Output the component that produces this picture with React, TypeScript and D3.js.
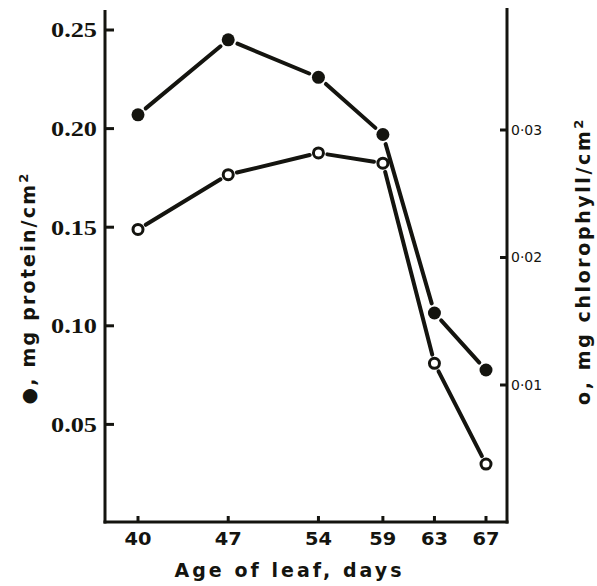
import React from "react";
import * as d3 from "d3";

const ages = [40, 47, 54, 59, 63, 67];
const protein = [0.207, 0.245, 0.226, 0.197, 0.1065, 0.0776];
const chlorophyll = [0.0222, 0.0265, 0.0282, 0.0274, 0.0117, 0.0038];
const leftTicks = [0.05, 0.1, 0.15, 0.2, 0.25];
const leftTickLabels = ["0.05", "0.10", "0.15", "0.20", "0.25"];
const rightTicks = [0.01, 0.02, 0.03];
const rightTickLabels = ["0·01", "0·02", "0·03"];
const xTickLabels = ["40", "47", "54", "59", "63", "67"];

const INK = "#14140f";
const W = 597;
const H = 586;
const axL = 105;
const axR = 507;
const axB = 522;

const x = d3.scaleLinear().domain([40, 67]).range([138, 486]);
const yL = d3.scaleLinear().domain([0, 0.25]).range([523, 30]);
const yR = d3.scaleLinear().domain([0, 0.03]).range([512.5, 130]);

function segments(pts: [number, number][], gap: number) {
  const out: { x1: number; y1: number; x2: number; y2: number }[] = [];
  for (let i = 0; i < pts.length - 1; i++) {
    const [ax, ay] = pts[i];
    const [bx, by] = pts[i + 1];
    const dx = bx - ax;
    const dy = by - ay;
    const len = Math.hypot(dx, dy);
    const ux = dx / len;
    const uy = dy / len;
    out.push({ x1: ax + ux * gap, y1: ay + uy * gap, x2: bx - ux * gap, y2: by - uy * gap });
  }
  return out;
}

export default function App() {
  const pPts: [number, number][] = ages.map((a, i) => [x(a), yL(protein[i])]);
  const cPts: [number, number][] = ages.map((a, i) => [x(a), yR(chlorophyll[i])]);
  const sansBold = "'DejaVu Sans', Verdana, sans-serif";
  return (
    <svg width={W} height={H} style={{ position: "absolute", left: 0, top: 0, background: "#fff" }}>
      {/* axes */}
      <line x1={axL} y1={10} x2={axL} y2={axB + 1.5} stroke={INK} strokeWidth={3} />
      <line x1={axR} y1={8} x2={axR} y2={axB + 1.5} stroke={INK} strokeWidth={3} />
      <line x1={axL - 1.5} y1={axB} x2={axR + 1.5} y2={axB} stroke={INK} strokeWidth={3} />

      {/* left ticks */}
      {leftTicks.map((t, i) => (
        <g key={"l" + i}>
          <line x1={axL} x2={axL + 9} y1={yL(t)} y2={yL(t)} stroke={INK} strokeWidth={3} />
          <text
            x={97}
            y={yL(t)}
            dy="0.35em"
            textAnchor="end"
            fontFamily="'Liberation Serif', 'Times New Roman', serif"
            fontWeight="bold"
            fontSize={21}
            textLength={46}
            lengthAdjust="spacingAndGlyphs"
            fill={INK}
          >
            {leftTickLabels[i]}
          </text>
        </g>
      ))}

      {/* right ticks */}
      {rightTicks.map((t, i) => (
        <g key={"r" + i}>
          <line x1={axR - 7} x2={axR} y1={yR(t)} y2={yR(t)} stroke={INK} strokeWidth={3} />
          <text
            x={511}
            y={yR(t)}
            dy="0.35em"
            textAnchor="start"
            fontFamily={sansBold}
            fontSize={14}
            fill={INK}
          >
            {rightTickLabels[i]}
          </text>
        </g>
      ))}

      {/* x ticks */}
      {ages.map((a, i) => (
        <g key={"x" + i}>
          <line x1={x(a)} x2={x(a)} y1={axB} y2={axB - 6} stroke={INK} strokeWidth={3} />
          <text
            x={x(a)}
            y={545}
            textAnchor="middle"
            fontFamily={sansBold}
            fontWeight="900"
            fontSize={17}
            textLength={27}
            lengthAdjust="spacingAndGlyphs"
            fill={INK}
          >
            {xTickLabels[i]}
          </text>
        </g>
      ))}

      {/* x label */}
      <text
        x={288}
        y={577}
        textAnchor="middle"
        fontFamily={sansBold}
        fontWeight="900"
        fontSize={19}
        textLength={227}
        lengthAdjust="spacing"
        fill={INK}
      >
        Age of leaf, days
      </text>

      {/* left label */}
      <text
        transform="translate(35,288) rotate(-90)"
        textAnchor="middle"
        fontFamily={sansBold}
        fontWeight="900"
        fontSize={19}
        letterSpacing={2.2}
        fill={INK}
      >
        ●, mg protein/cm<tspan dy="-7" fontSize={13}>2</tspan>
      </text>

      {/* right label */}
      <text
        transform="translate(590,261) rotate(-90)"
        textAnchor="middle"
        fontFamily={sansBold}
        fontWeight="900"
        fontSize={19}
        letterSpacing={2.6}
        fill={INK}
      >
        o, mg chlorophyll/cm<tspan dy="-7" fontSize={13}>2</tspan>
      </text>

      {/* protein line */}
      {segments(pPts, 10).map((s, i) => (
        <line key={"ps" + i} {...s} stroke={INK} strokeWidth={4} strokeLinecap="round" />
      ))}
      {/* chlorophyll line */}
      {segments(cPts, 9).map((s, i) => (
        <line key={"cs" + i} {...s} stroke={INK} strokeWidth={4} strokeLinecap="round" />
      ))}

      {pPts.map(([px, py], i) => (
        <circle key={"pp" + i} cx={px} cy={py} r={6.5} fill={INK} />
      ))}
      {cPts.map(([px, py], i) => (
        <circle key={"cp" + i} cx={px} cy={py} r={5} fill="#fff" stroke={INK} strokeWidth={3} />
      ))}
    </svg>
  );
}
